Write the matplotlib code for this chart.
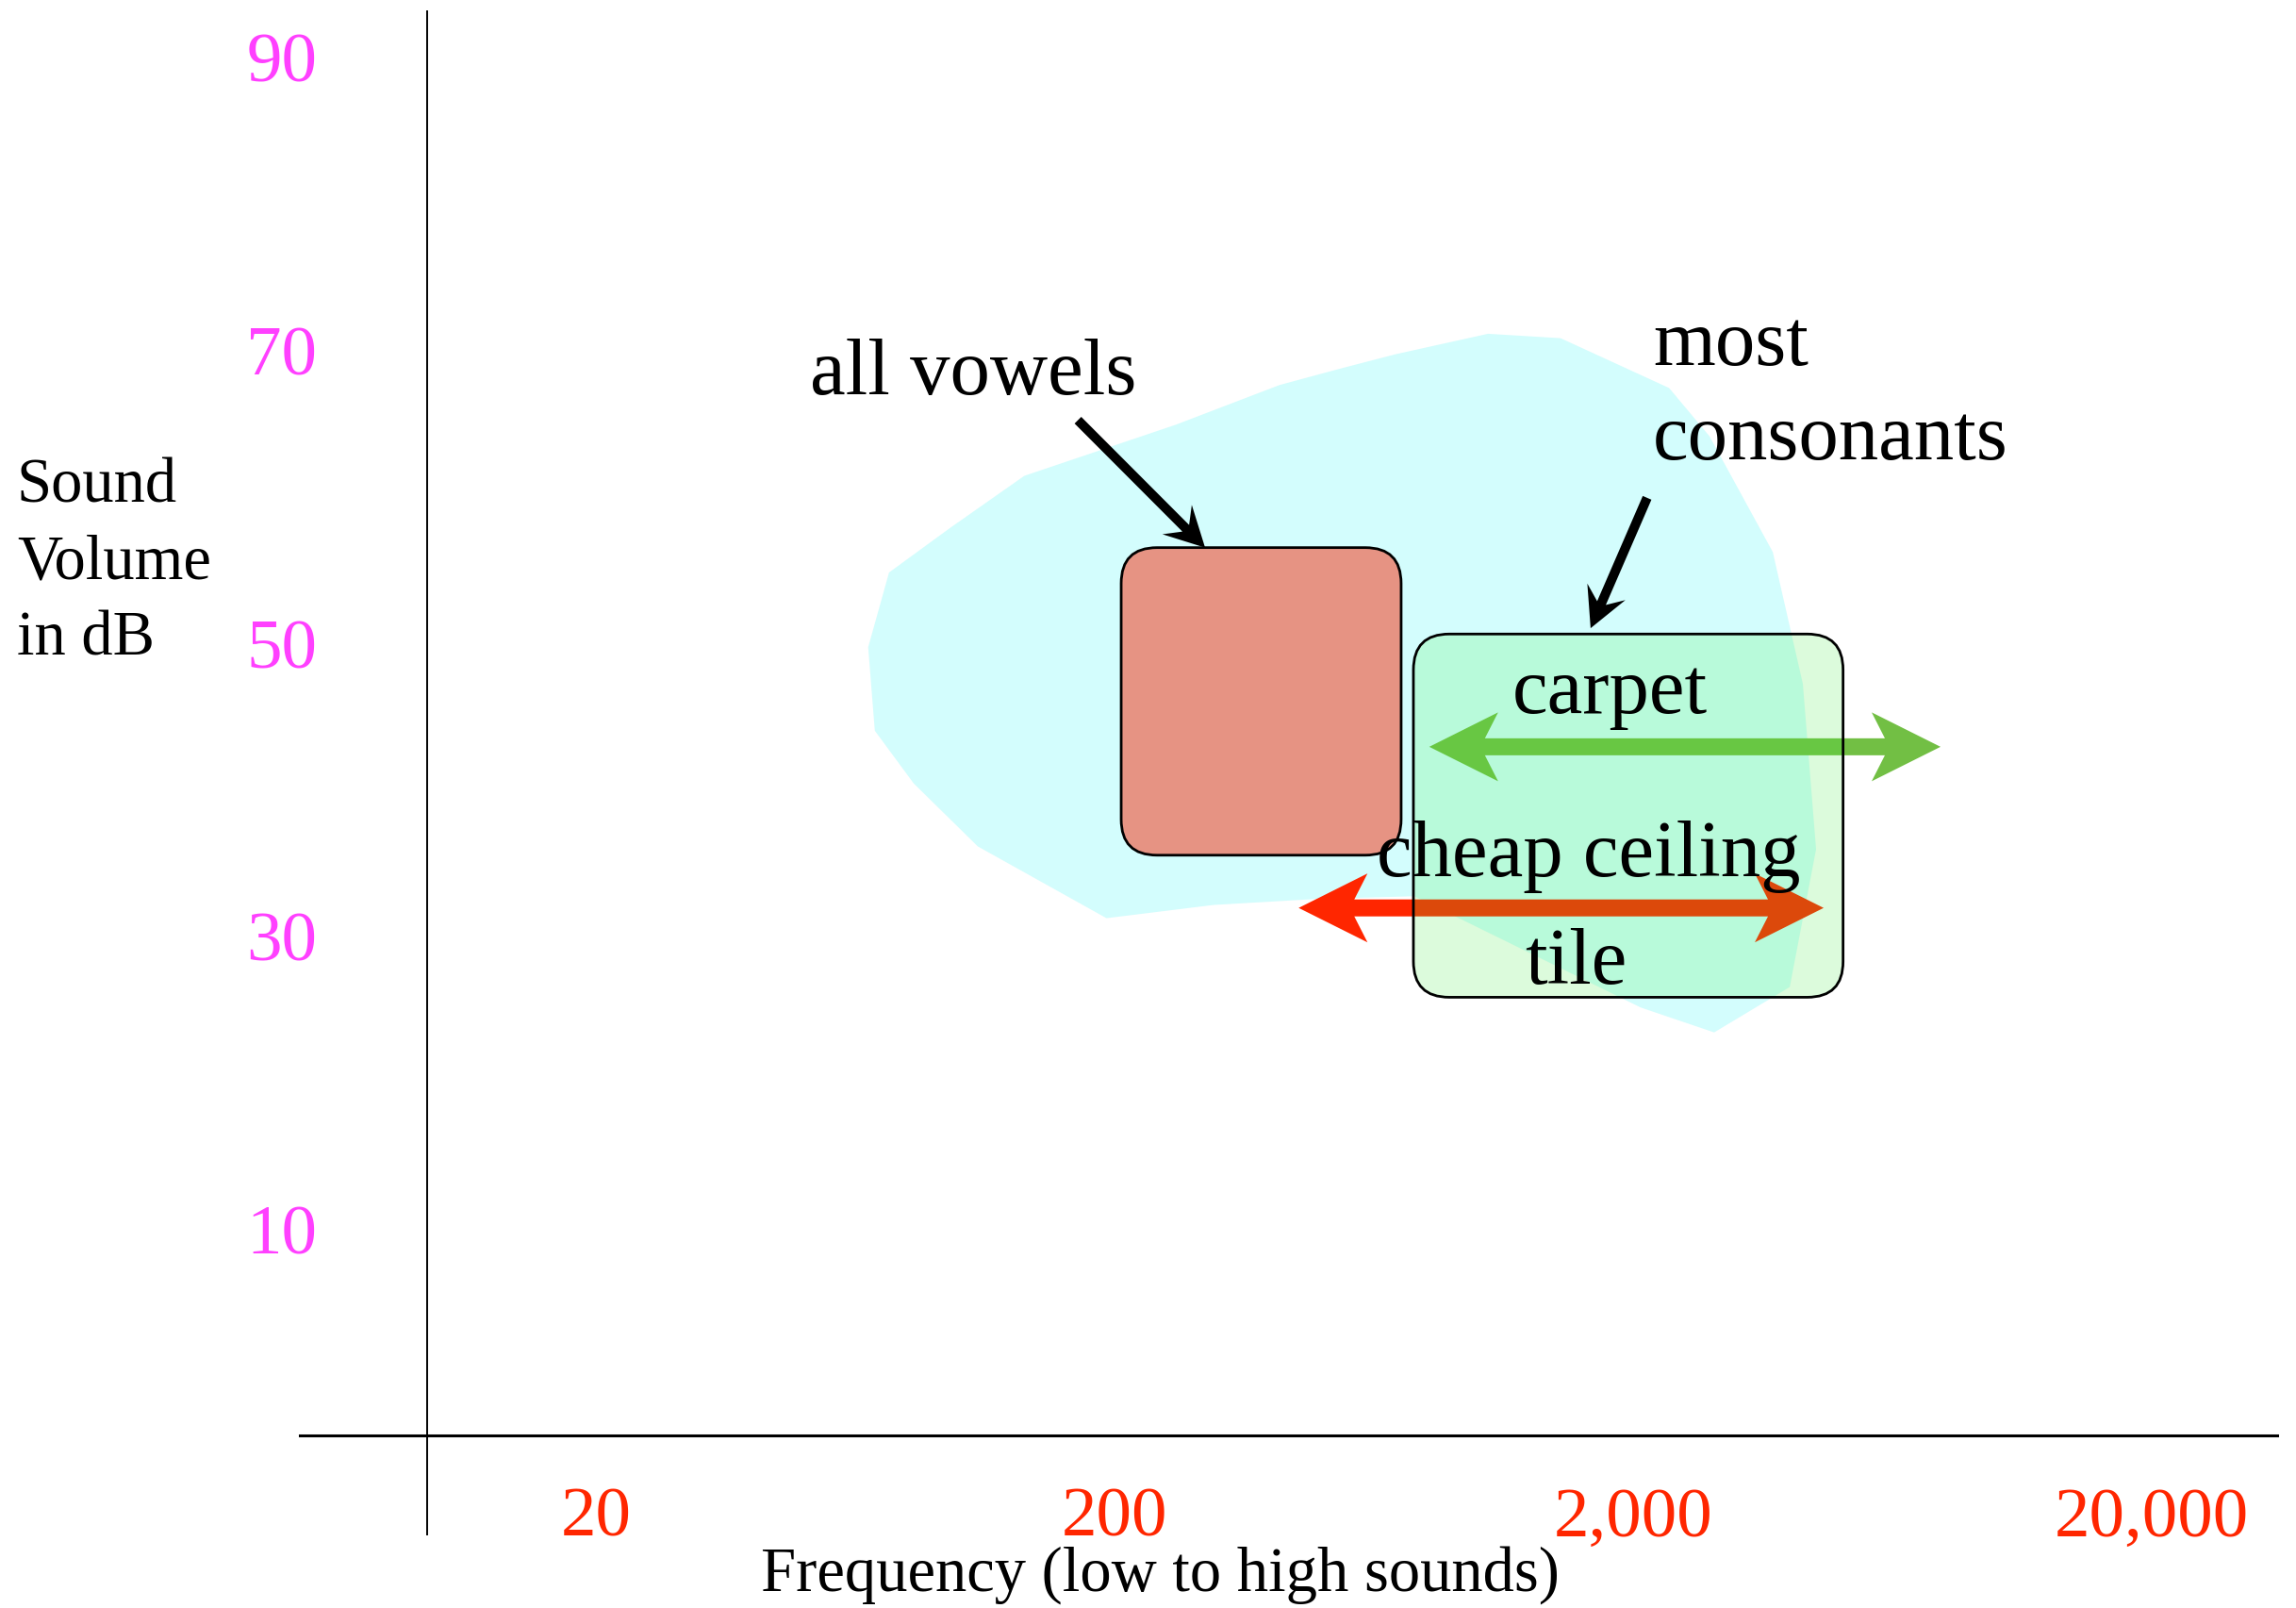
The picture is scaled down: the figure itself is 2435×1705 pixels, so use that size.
import numpy as np
import matplotlib
matplotlib.use("Agg")
import matplotlib.pyplot as plt
from matplotlib.patches import FancyBboxPatch, Polygon
from matplotlib.transforms import IdentityTransform, offset_copy


plt.rcParams['font.family'] = ['Liberation Serif', 'DejaVu Serif']


# speech area outline (frequency in Hz, level in dB)
banana_hz = [757, 2069, 2866, 4009, 4506, 4249, 3718, 2808, 2346, 1449, 1050, 696, 542,
             416, 263, 134, 96, 73.5, 67, 69, 82, 109, 193, 310, 484]
banana_db = [32.8, 25.2, 23.5, 26.6, 36.0, 47.3, 56.3, 64.2, 67.5, 70.9, 71.2, 69.8, 68.8,
             67.7, 65.0, 61.5, 57.9, 54.9, 49.8, 44.1, 40.5, 36.2, 31.3, 32.2, 32.6]

vowel_hz = [206, 714]
vowel_db = [35.6, 56.6]
consonant_hz = [754, 5080]
consonant_db = [25.9, 50.7]

carpet_hz = [809, 7830]
carpet_db = 43.0
tile_hz = [453, 4660]
tile_db = 32.0

vowel_arrow_hz = [170, 299]
vowel_arrow_db = [65.3, 56.6]
cons_arrow_hz = [2128, 1656]
cons_arrow_db = [60.0, 51.1]

x_ticks = [20, 200, 2000, 20000]
x_labels = ["20", "200", "2,000", "20,000"]
y_ticks = [90, 70, 50, 30, 10]


fig = plt.figure(figsize=(24.35, 17.05), dpi=100)
ax = fig.add_axes([0, 0, 1, 1])
ax.set_xscale('log')
ax.set_xlim(1.419, 37950)
ax.set_ylim(-15.8, 93.99)
ax.axis('off')


def to_px(x, y):
    return ax.transData.transform((x, y))


def rounded_box(hz, db, face, z):
    x0, y0 = to_px(hz[0], db[0])
    x1, y1 = to_px(hz[1], db[1])
    box = FancyBboxPatch((x0, y0), x1 - x0, y1 - y0,
                         boxstyle="round,pad=0,rounding_size=38",
                         transform=IdentityTransform(),
                         facecolor=face, edgecolor='black', linewidth=2, zorder=z)
    ax.add_patch(box)


def stealth(hz, db, color, shaft, hl, hw, notch, double, z):
    p0 = np.array(to_px(hz[0], db[0]))
    p1 = np.array(to_px(hz[1], db[1]))
    u = (p1 - p0) / np.hypot(*(p1 - p0))
    n = np.array([-u[1], u[0]])
    s = shaft / 2
    pts = [p1 - u * notch + n * s, p1 - u * hl + n * hw / 2, p1,
           p1 - u * hl - n * hw / 2, p1 - u * notch - n * s]
    if double:
        pts += [p0 + u * notch - n * s, p0 + u * hl - n * hw / 2, p0,
                p0 + u * hl + n * hw / 2, p0 + u * notch + n * s]
    else:
        pts += [p0 - n * s, p0 + n * s]
    ax.add_patch(Polygon(pts, closed=True, transform=IdentityTransform(),
                         facecolor=color, edgecolor='none', zorder=z))


# axes lines
ax.plot([9.46, 9.46], [93.2, -10.8], color='black', lw=1.4, zorder=2)
ax.plot([5.37, 34900], [-4.0, -4.0], color='black', lw=2.2, zorder=2)

ax.fill(banana_hz, banana_db, color='#d3fdfd', lw=0, zorder=1)

rounded_box(vowel_hz, vowel_db, '#e69383', 3)

stealth(carpet_hz, [carpet_db, carpet_db], '#72bf44', 18, 73, 73, 59, True, 4)
stealth(tile_hz, [tile_db, tile_db], '#ff2600', 18, 73, 73, 59, True, 4)

rounded_box(consonant_hz, consonant_db, (0.25, 0.93, 0.25, 0.18), 5)

stealth(vowel_arrow_hz, vowel_arrow_db, 'black', 10, 42, 44, 29, False, 6)
stealth(cons_arrow_hz, cons_arrow_db, 'black', 10, 42, 44, 29, False, 6)

# labels
big = 61
ax.text(51.8, 67.1, "all vowels", fontsize=big, ha='left', va='baseline', zorder=7)
ax.text(2183, 69.1, "most", fontsize=big, ha='left', va='baseline', zorder=7)
ax.text(2183, 62.6, "consonants", fontsize=big, ha='left', va='baseline', zorder=7)
ax.text(1806, 45.3, "carpet", fontsize=big, ha='center', va='baseline', zorder=7)
ax.text(1644, 34.2, "cheap ceiling", fontsize=big, ha='center', va='baseline', zorder=7)
ax.text(1549, 26.8, "tile", fontsize=big, ha='center', va='baseline', zorder=7)

ax.text(1.53, 59.7, "Sound", fontsize=48, ha='left', va='baseline')
ax.text(1.53, 54.5, "Volume", fontsize=48, ha='left', va='baseline')
ax.text(1.53, 49.3, "in dB", fontsize=48, ha='left', va='baseline')

ax.text(245, -14.6, "Frequency (low to high sounds)", fontsize=48, ha='center', va='baseline')

for xv, lab in zip(x_ticks, x_labels):
    ax.text(xv, -10.9, lab, fontsize=54, color='#ff2600', ha='center', va='baseline')

ytrans = offset_copy(ax.transData, fig=fig, x=0, y=-25, units='dots')
for yv in y_ticks:
    ax.text(5.8, yv, str(yv), fontsize=54, color='#ff40ff', ha='right', va='baseline',
            transform=ytrans)

fig.savefig("out.png", dpi=100)
